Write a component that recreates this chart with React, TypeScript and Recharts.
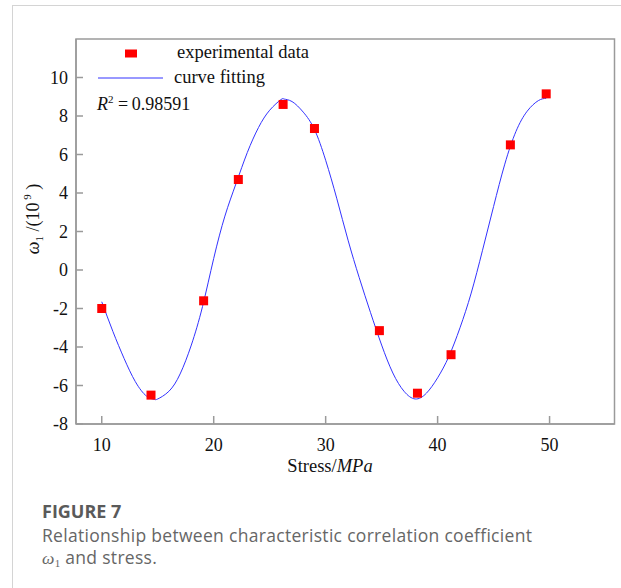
import React from 'react';
import { ComposedChart, Line, Scatter, XAxis, YAxis } from 'recharts';

// experimental points
const stress = [10.0, 14.4, 19.1, 22.2, 26.2, 29.0, 34.8, 38.2, 41.2, 46.5, 49.7];
const omega = [-2.0, -6.5, -1.6, 4.7, 8.6, 7.35, -3.15, -6.4, -4.4, 6.5, 9.15];

// fitted curve
const fitStress = [
  10, 11, 12, 13, 14, 14.7, 15, 16, 17, 18, 19, 20, 21, 22, 23, 24, 25, 26, 26.3,
  27, 28, 29, 30, 31, 32, 33, 34, 35, 36, 37, 38, 39, 40, 41, 42, 43, 44, 45, 46,
  47, 48, 49, 49.7,
];
const fitOmega = [
  -1.65, -3.2, -4.6, -5.8, -6.55, -6.72, -6.7, -6.3, -5.4, -3.9, -1.9, 0.6, 2.8, 4.5,
  6.1, 7.4, 8.3, 8.85, 8.88, 8.75, 8.2, 7.3, 5.7, 3.7, 1.55, -0.4, -2.2, -3.9, -5.35,
  -6.3, -6.7, -6.4, -5.6, -4.5, -3.0, -1.2, 1.0, 3.3, 5.5, 7.2, 8.25, 8.8, 8.92,
];

const xTicks = [10, 20, 30, 40, 50];
const yTicks = [-8, -6, -4, -2, 0, 2, 4, 6, 8, 10];

const points = stress.map((x, i) => ({ x, y: omega[i] }));
const curve = fitStress.map((x, i) => ({ x, y: fitOmega[i] }));

const PLOT_LEFT = 76;
const PLOT_TOP = 39;
const PLOT_RIGHT = 614.5;
const PLOT_BOTTOM = 424;
const AXIS = '#9a9a9a';
const SERIF = '"Liberation Serif", "DejaVu Serif", serif';
const SANS = '"Open Sans", "Noto Sans", sans-serif';

const XTick = ({ x, payload }: any) => (
  <g>
    <line x1={x} x2={x} y1={PLOT_BOTTOM} y2={PLOT_BOTTOM - 8} stroke={AXIS} strokeWidth={1.5} />
    <text x={x} y={PLOT_BOTTOM + 27} textAnchor="middle" fontSize={18} fontFamily={SERIF} fill="#111">
      {payload.value}
    </text>
  </g>
);

const YTick = ({ y, payload }: any) => (
  <g>
    <line x1={PLOT_LEFT} x2={PLOT_LEFT + 7} y1={y} y2={y} stroke={AXIS} strokeWidth={1.5} />
    <text x={PLOT_LEFT - 8} y={y + 6} textAnchor="end" fontSize={18} fontFamily={SERIF} fill="#111">
      {payload.value}
    </text>
  </g>
);

const Square = ({ cx, cy }: any) => (
  <rect x={cx - 4.5} y={cy - 4.5} width={9} height={9} fill="#ff0000" />
);

const App = () => {
  return (
    <div style={{ position: 'absolute', left: 0, top: 0, width: 621, height: 588, background: '#fff', overflow: 'hidden' }}>
      <div style={{ position: 'absolute', left: 12, top: 5, width: 609, height: 583, borderLeft: '1px solid #d4d4d4', borderTop: '1px solid #d4d4d4' }} />
      <div style={{ position: 'absolute', left: 0, top: 0 }}>
        <ComposedChart width={621} height={488} margin={{ top: PLOT_TOP, right: 621 - PLOT_RIGHT, left: 0, bottom: 0 }}>
          <XAxis
            type="number"
            dataKey="x"
            domain={[7.7, 55.8]}
            ticks={xTicks}
            allowDataOverflow
            height={488 - PLOT_BOTTOM}
            axisLine={{ stroke: AXIS, strokeWidth: 1.5 }}
            tickLine={false}
            tick={<XTick />}
          />
          <YAxis
            type="number"
            domain={[-8, 12]}
            ticks={yTicks}
            allowDataOverflow
            width={PLOT_LEFT}
            axisLine={{ stroke: AXIS, strokeWidth: 1.5 }}
            tickLine={false}
            tick={<YTick />}
          />
          <Line
            data={curve}
            dataKey="y"
            type="natural"
            stroke="#3333ff"
            strokeWidth={1}
            dot={false}
            activeDot={false}
            isAnimationActive={false}
          />
          <Scatter data={points} dataKey="y" shape={<Square />} isAnimationActive={false} />
        </ComposedChart>
      </div>
      <svg width={621} height={588} style={{ position: 'absolute', left: 0, top: 0, pointerEvents: 'none' }}>
        {/* plot frame */}
        <rect
          x={PLOT_LEFT}
          y={PLOT_TOP}
          width={PLOT_RIGHT - PLOT_LEFT}
          height={PLOT_BOTTOM - PLOT_TOP}
          fill="none"
          stroke={AXIS}
          strokeWidth={1.5}
        />
        {/* legend */}
        <rect x={125} y={49.5} width={12} height={8} fill="#ff0000" />
        <text x={177} y={58} fontSize={18.5} fontFamily={SERIF} fill="#111">experimental data</text>
        <line x1={98} x2={163} y1={78} y2={78} stroke="#3333ff" strokeWidth={1} />
        <text x={174} y={83} fontSize={18.5} fontFamily={SERIF} fill="#111">curve fitting</text>
        <text x={97} y={110} fontSize={18} fontFamily={SERIF} fill="#111">
          <tspan fontStyle="italic">R</tspan>
          <tspan fontSize={11} dy={-7}>2</tspan>
          <tspan dy={7}>{' =\u20090.98591'}</tspan>
        </text>
        {/* axis titles */}
        <text x={330} y={472} textAnchor="middle" fontSize={18.5} fontFamily={SERIF} fill="#111">
          Stress/<tspan fontStyle="italic">MPa</tspan>
        </text>
        <text transform="translate(39,219) rotate(-90)" textAnchor="middle" fontSize={18} fontFamily={SERIF} fill="#111">
          <tspan fontStyle="italic">ω</tspan>
          <tspan fontSize={11} dy={4}>1</tspan>
          <tspan dy={-4}> /(10</tspan>
          <tspan fontSize={11} dy={-8}> 9</tspan>
          <tspan dy={8}> )</tspan>
        </text>
        {/* caption */}
        <text x={42} y={518} fontSize={18} fontWeight={700} fontFamily={SANS} fill="#5a5a5a">
          FIGURE 7
        </text>
        <text x={42} y={542} fontSize={17.5} letterSpacing={0.3} fontFamily={SANS} fill="#666">
          Relationship between characteristic correlation coefficient
        </text>
        <text x={42} y={564} fontSize={17.5} letterSpacing={0.3} fontFamily={SANS} fill="#666">
          <tspan fontFamily={SERIF} fontStyle="italic">ω</tspan>
          <tspan fontFamily={SERIF} fontSize={11} dy={3}>1</tspan>
          <tspan dy={-3}> and stress.</tspan>
        </text>
      </svg>
    </div>
  );
};

export default App;
